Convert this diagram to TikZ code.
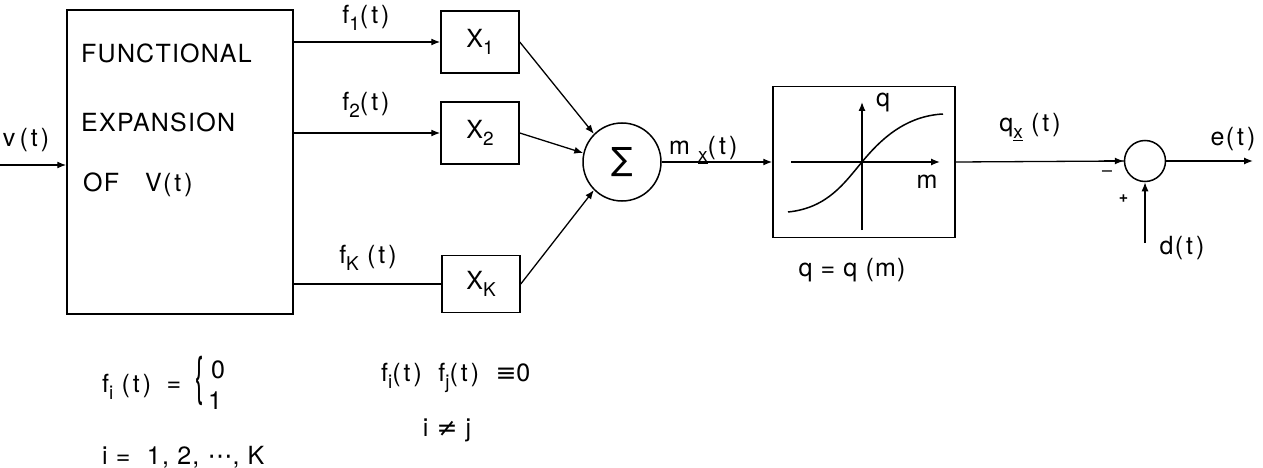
\documentclass[tikz,border=0pt]{standalone}
\usepackage{fontspec}
\setmainfont{TeX Gyre Heros}[LetterSpace=5]
\newfontfamily\symf{DejaVu Sans}
\usetikzlibrary{arrows.meta}
\newcommand{\lo}[1]{\raisebox{-0.5ex}{\fontsize{19}{19}\selectfont #1}}
\newcommand{\oft}{(\kern3pt t\kern3pt)}
\tikzset{
  every node/.style={font=\fontsize{25}{29}\selectfont},
  conn/.style={line width=1.3pt},
  arr/.style={conn,-{Latex[length=9pt,width=7pt]}},
  blk/.style={draw,line width=1.5pt,inner sep=0pt},
  circ/.style={draw,circle,line width=1.5pt,inner sep=0pt},
  lbl/.style={inner sep=1pt},
}
\begin{document}
\begin{tikzpicture}[x=1pt,y=-1pt]
\useasboundingbox (0,0) rectangle (1263,468);
% blocks
\node[blk,minimum width=226pt,minimum height=304pt] (big) at (180,162) {};
\node[lbl,anchor=west] (t1) at (80,53) {FUNCTIONAL};
\node[lbl,anchor=west] (t2) at (80,122) {EXPANSION};
\node[lbl,anchor=west] (t3) at (82,185) {OF\hspace{26pt}V\oft};
\node[blk,minimum width=78pt,minimum height=62pt] (X1) at (480,42) {X\lo{1}};
\node[blk,minimum width=78pt,minimum height=62pt] (X2) at (480,133) {X\lo{2}};
\node[blk,minimum width=78pt,minimum height=57pt] (XK) at (481,284) {X\lo{K}};
\node[circ,minimum size=78pt] (S) at (622,162) {\fontsize{32}{36}\selectfont\symf ∑};
\node[blk,minimum width=182pt,minimum height=151pt] (NL) at (864,162) {};
\node[circ,minimum size=41pt] (S2) at (1145,161) {};
% coordinates
\coordinate (vin) at (0,165);
\coordinate (eout) at (1253,161);
\coordinate (din) at (1145,243);
% connectors
\draw[arr] (vin) -- (vin -| big.west);
\draw[arr] (X1.west -| big.east) -- (X1.west);
\draw[arr] (X2.west -| big.east) -- (X2.west);
\draw[conn] (XK.west -| big.east) -- (XK.west);
\draw[arr] (X1.east) -- (S.135);
\draw[arr] (X2.east) -- (S.167);
\draw[arr] (XK.east) -- (S.225);
\draw[arr] (S.east) -- (NL.west);
\draw[conn] (NL.east) -- (S2.west);
\draw[arr] ([xshift=-20pt]S2.west) -- (S2.west);
\draw[arr] (S2.east) -- (eout);
\draw[arr] (din) -- (S2.south);
% characteristic inside NL
\draw[arr] (791,162) -- (940,162);
\draw[arr] (862,230) -- (862,102);
\draw[line width=1.5pt] (788,212) .. controls (828,208) and (845,182) .. (862,162)
   .. controls (880,140) and (905,116) .. (943,114);
% labels
\node[lbl] (lv) at (26,140) {v\,\oft};
\node[lbl] (lf1) at (366,18) {f\lo{1}\oft};
\node[lbl] (lf2) at (366,105) {f\lo{2}\oft};
\node[lbl] (lfK) at (368,258) {f\lo{K} \oft};
\node[lbl,anchor=west] (lm) at (668,150) {m \lo{\underline{x}}\oft};
\node[lbl,anchor=west] (lq) at (875,102) {q};
\node[lbl] (lmm) at (927,182) {m};
\node[lbl] (lqq) at (852,270) {q = q (m)};
\node[lbl] (lqx) at (1030,127) {q\lo{\underline{x}} \oft};
\node[lbl] (le) at (1233,139) {e\oft};
\node[lbl] (lminus) at (1107,174) {\fontsize{16}{16}\selectfont\symf −};
\node[lbl] (lplus) at (1124,199) {\fontsize{16}{16}\selectfont\textbf{+}};
\node[lbl] (ld) at (1182,248) {d\oft};
\node[lbl,anchor=west] (eq1) at (101,387) {f\lo{i} \oft};
\node[lbl] (eq1b) at (174,387) {=};
\node[lbl] (brace) at (200,381) {\scalebox{1}[2.1]{\{}};
\node[lbl] (zero) at (218,370) {0};
\node[lbl] (one) at (215,401) {1};
\node[lbl,anchor=west] (eq2) at (101,457) {i = \ 1, 2, {\symf ⋯}, K};
\node[lbl,anchor=west] (eq3) at (380,378) {f\lo{i}\oft{} \ f\lo{j}\oft{} \ {\symf ≡}0};
\node[lbl] (eq4) at (447,430) {i {\symf ≠} j};
\end{tikzpicture}
\end{document}
